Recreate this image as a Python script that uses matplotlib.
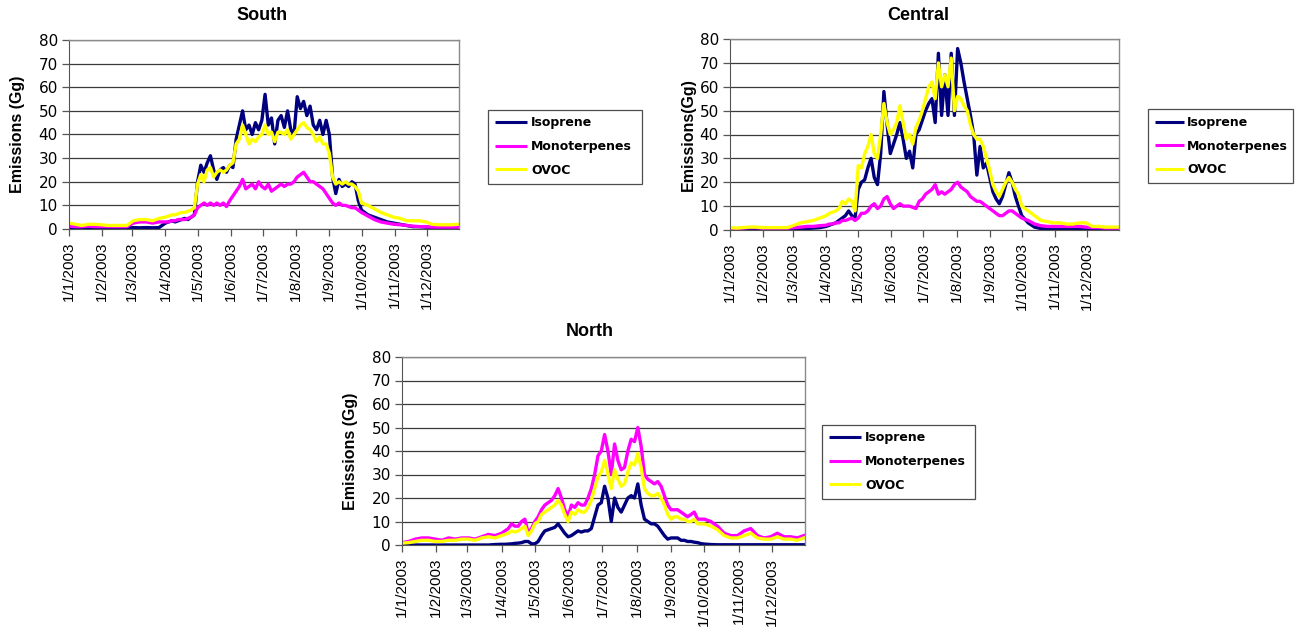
import numpy as np
import matplotlib
matplotlib.use("Agg")
import matplotlib.pyplot as plt
from matplotlib.lines import Line2D

# ---------------- data (day of year 2003, value in Gg) ----------------
days = ([0, 6, 12, 18, 24, 30, 36, 42, 48, 54, 60, 66, 72, 78, 84]
        + list(range(90, 274, 3))
        + [279, 285, 291, 297, 303, 309, 315, 321, 327, 333, 339, 345, 351, 357, 363])

series_names = ["Isoprene", "Monoterpenes", "OVOC"]
month_labels = ["1/1/2003", "1/2/2003", "1/3/2003", "1/4/2003", "1/5/2003", "1/6/2003",
                "1/7/2003", "1/8/2003", "1/9/2003", "1/10/2003", "1/11/2003", "1/12/2003"]
y_ticks = [0, 10, 20, 30, 40, 50, 60, 70, 80]

south_isoprene = [0.8, 0.5, 0.5, 0.6, 0.5, 0.5, 0.5, 0.5, 0.5, 0.5, 0.6, 0.5, 0.6, 0.5, 0.6,
                  2.5, 3, 3.5, 3, 3.5, 4, 4.5, 4, 5, 6,
                  20, 27, 24, 28, 31, 25, 21, 25, 26, 24,
                  27, 26, 38, 44, 50, 42, 44, 40, 45, 42,
                  46, 57, 44, 47, 36, 46, 48, 43, 50, 42,
                  40, 56, 51, 54, 48, 52, 44, 42, 46, 40,
                  46, 40, 22, 15, 21, 18, 19, 18, 20, 19, 12, 8,
                  6, 5, 4, 3, 2.5, 2, 1.5, 1, 1, 0.8, 0.5, 0.5, 0.5, 0.5, 0.5]
south_monoterpenes = [1.2, 1, 1, 1.2, 1, 1, 1, 1, 1, 1, 2.5, 3, 3, 2.5, 3,
                      3, 3, 3.5, 3.5, 4, 4, 4, 4.5, 5, 6,
                      9, 10, 11, 10, 11, 10, 11, 10, 11, 9.5,
                      12, 14, 16, 18, 21, 17, 18, 19, 17, 20,
                      18, 17, 19, 16, 17, 18, 19, 18, 19, 19,
                      20, 22, 23, 24, 22, 20, 20, 19, 18, 17,
                      15, 13, 11, 10, 11, 10, 10, 9.5, 9, 9, 8, 7,
                      5.5, 4, 3, 2.5, 2, 1.8, 1.5, 1.2, 1, 1, 0.8, 0.8, 0.8, 0.8, 0.8]
south_ovoc = [2.5, 2, 1.5, 2, 2, 1.8, 1.5, 1.5, 1.5, 1.5, 3.5, 4, 4, 3.5, 4.5,
              5, 5.5, 6, 6, 6.5, 7, 7, 7.5, 8, 9,
              19, 23, 20, 25, 26, 22, 24, 25, 24, 25,
              27, 28, 36, 38, 44, 40, 36, 38, 37, 39,
              40, 44, 40, 41, 37, 41, 41, 40, 42, 38,
              40, 42, 44, 45, 43, 42, 40, 37, 39, 36,
              36, 32, 22, 19, 20, 19, 20, 19, 19, 18, 16, 11,
              10, 8.5, 7, 6, 5, 4.5, 3.5, 3.5, 3.5, 3, 2, 1.8, 1.8, 1.8, 2]

central_isoprene = [0.5, 0.3, 0.2, 0.2, 0.2, 0.2, 0.2, 0.2, 0.3, 0.3, 0.4, 0.5, 0.6, 0.8, 1,
                    1.5, 2, 2.5, 3, 4, 5, 6, 8, 6, 5,
                    17, 20, 21, 26, 30, 22, 19, 32, 58, 44,
                    32, 36, 40, 45, 38, 30, 33, 26, 40, 42,
                    46, 50, 53, 55, 45, 74, 48, 65, 48, 74,
                    48, 76, 70, 62, 55, 48, 40, 23, 35, 26,
                    28, 22, 16, 13, 11, 14, 19, 24, 20, 14, 10, 6,
                    3, 1.2, 0.6, 0.4, 0.4, 0.4, 0.4, 0.4, 0.3, 0.3, 0.3, 0.3, 0.3, 0.3, 0.3]
central_monoterpenes = [0.8, 0.5, 0.8, 1, 1, 0.8, 0.8, 0.8, 0.8, 0.8, 1, 1.2, 1.5, 1.5, 1.8,
                        2, 2.5, 2.5, 3, 3, 4, 4, 4.5, 5, 4,
                        5, 7, 7, 8, 10, 11, 9, 10, 13, 14,
                        11, 9, 10, 11, 10, 10, 10, 9.5, 9, 12,
                        13, 15, 16, 17, 19, 15, 16, 15, 16, 17,
                        19, 20, 18, 17, 16, 14, 13, 12, 12, 11,
                        10, 9, 8, 7, 6, 6, 7, 8, 8, 7, 6, 5,
                        4, 2.5, 1.8, 1.5, 1.5, 1.5, 1.5, 1.5, 1.5, 1.2, 1, 1, 0.8, 0.8, 0.8]
central_ovoc = [1, 0.8, 1, 1.2, 1.2, 1, 1, 1, 1, 1, 2, 3, 3.5, 4, 5,
                6, 7, 7.5, 8, 9, 12, 11, 13, 12, 8,
                27, 26, 32, 35, 40, 32, 30, 40, 53, 45,
                40, 42, 45, 52, 45, 38, 40, 36, 43, 46,
                50, 55, 60, 62, 55, 70, 60, 65, 60, 72,
                50, 56, 55, 52, 50, 44, 40, 38, 38, 35,
                30, 25, 19, 16, 14, 17, 20, 22, 20, 17, 15, 10,
                8, 6, 4, 3.5, 3, 3, 2.5, 2.5, 3, 3, 1.5, 1.5, 1.2, 1.2, 1.2]

north_isoprene = [0, 0, 0, 0, 0, 0, 0, 0, 0, 0, 0, 0, 0, 0, 0.2,
                  0.3, 0.3, 0.4, 0.5, 0.7, 0.8, 1, 1.5, 1.5, 0.5,
                  0.5, 1.5, 4, 6, 6.5, 7, 7.5, 9, 7, 5,
                  3.5, 4, 5, 6, 5.5, 6, 6, 7, 12, 17,
                  18, 25, 20, 10, 20, 16, 14, 17, 20, 21,
                  20, 26, 17, 11, 10, 9, 9, 8, 6, 4,
                  2.5, 3, 3, 3, 2, 2, 1.5, 1.5, 1.2, 1, 0.6, 0.4,
                  0.2, 0.1, 0.1, 0.1, 0.1, 0.1, 0.1, 0.1, 0.1, 0.1, 0.1, 0.1, 0.1, 0.1, 0.1]
north_monoterpenes = [1, 1.5, 2.5, 3, 3, 2.5, 2, 3, 2.5, 3, 3, 2.5, 3.5, 4.5, 4,
                      5, 6, 7, 9, 8, 8, 10, 11, 5, 7,
                      10, 12, 15, 17, 18, 19, 21, 24, 20, 15,
                      12, 17, 16, 18, 17, 17, 20, 24, 30, 38,
                      40, 47, 40, 30, 43, 36, 32, 33, 40, 45,
                      44, 50, 42, 30, 28, 27, 26, 27, 25, 21,
                      17, 15, 15, 15, 14, 13, 12, 13, 14, 11, 11, 11,
                      10, 8, 5, 4, 4, 6, 7, 4, 3, 3.5, 5, 3.5, 3.5, 3, 4]
north_ovoc = [0.8, 1, 1.5, 2, 2, 1.5, 1.5, 2, 2, 2.5, 2.5, 2, 3, 3.5, 3,
              4, 4.5, 5, 6, 5.5, 6, 7, 8, 4, 6,
              9, 10, 13, 14, 15, 16, 17, 19, 17, 13,
              10, 14, 13, 15, 14, 14, 16, 19, 24, 29,
              31, 36, 30, 24, 32, 28, 25, 26, 31, 35,
              34, 39, 33, 24, 22, 21, 21, 22, 20, 17,
              13, 11, 12, 12, 11, 11, 10, 10, 11, 9, 9, 9,
              8, 6.5, 4, 3, 3, 4, 5, 3, 2.5, 2.5, 3.5, 2.5, 2.5, 2, 3]

# ---------------- styling ----------------
colors = ["#00007F", "#FF00FF", "#FFFF00"]
plt.rcParams["font.family"] = ["Liberation Sans", "DejaVu Sans"]

fig = plt.figure(figsize=(13.04, 6.27), dpi=100)
fig.patch.set_facecolor("white")

dates = np.datetime64("2003-01-01") + np.array(days).astype("timedelta64[D]")
month_starts = [np.datetime64("2003-%02d-01" % m) for m in range(1, 13)]

panels = [
    dict(title="South", ylabel="Emissions (Gg)", data=[south_isoprene, south_monoterpenes, south_ovoc],
         rect=[69 / 1304, 1 - 229 / 627, 390 / 1304, 189 / 627],
         title_xy=(262, 15), ylabel_x=18,
         leg=[488 / 1304, 1 - 185 / 627, 154 / 1304, 77 / 627], hl=2.6),
    dict(title="Central", ylabel="Emissions(Gg)", data=[central_isoprene, central_monoterpenes, central_ovoc],
         rect=[730 / 1304, 1 - 230 / 627, 389 / 1304, 191 / 627],
         title_xy=(918, 15), ylabel_x=688,
         leg=[1148 / 1304, 1 - 187 / 627, 145 / 1304, 82 / 627], hl=2.3),
    dict(title="North", ylabel="Emissions (Gg)", data=[north_isoprene, north_monoterpenes, north_ovoc],
         rect=[402 / 1304, 1 - 545 / 627, 403 / 1304, 188 / 627],
         title_xy=(590, 332), ylabel_x=350,
         leg=[822 / 1304, 1 - 500 / 627, 153 / 1304, 77 / 627], hl=2.6),
]

for p in panels:
    ax = fig.add_axes(p["rect"])
    for vals, c, name in zip(p["data"], colors, series_names):
        ax.plot(dates, vals, color=c, lw=2.4, label=name, solid_joinstyle="round")
    ax.set_xlim(np.datetime64("2003-01-01"), np.datetime64("2003-12-31"))
    ax.set_ylim(0, 80)
    ax.set_yticks(y_ticks)
    ax.set_yticklabels([str(v) for v in y_ticks], fontsize=11, family="DejaVu Sans")
    ax.set_xticks(month_starts)
    ax.set_xticklabels(month_labels, rotation=90, fontsize=11)
    ax.grid(axis="y", color="#3a3a3a", lw=0.9)
    ax.set_axisbelow(True)
    for s in ["top", "right"]:
        ax.spines[s].set_color("#8a8a8a")
        ax.spines[s].set_linewidth(1.0)
    ax.spines["left"].set_color("#555555")
    ax.spines["bottom"].set_color("#555555")
    ax.tick_params(axis="y", length=5, width=0.9, color="#555555", pad=3)
    ax.tick_params(axis="x", length=5, width=0.9, color="#555555", pad=4)
    # title and y label
    fig.text(p["title_xy"][0] / 1304, 1 - p["title_xy"][1] / 627, p["title"],
             ha="center", va="center", fontsize=13, fontweight="bold")
    fig.text(p["ylabel_x"] / 1304, p["rect"][1] + p["rect"][3] / 2, p["ylabel"],
             ha="center", va="center", rotation=90, fontsize=11.5, fontweight="bold")
    # legend
    handles = [Line2D([], [], color=c, lw=2.2, solid_capstyle="butt") for c in colors]
    leg = fig.legend(handles, series_names, loc="center",
                     bbox_to_anchor=p["leg"], bbox_transform=fig.transFigure,
                     mode="expand", frameon=True, fancybox=False, shadow=False,
                     prop=dict(family="DejaVu Sans", weight="bold", size=9),
                     handlelength=p["hl"], handletextpad=0.3, labelspacing=0.85,
                     borderaxespad=0.0, borderpad=0.55)
    leg.get_frame().set_edgecolor("#222222")
    leg.get_frame().set_linewidth(0.9)

fig.savefig("out.png", dpi=100, facecolor="white")
